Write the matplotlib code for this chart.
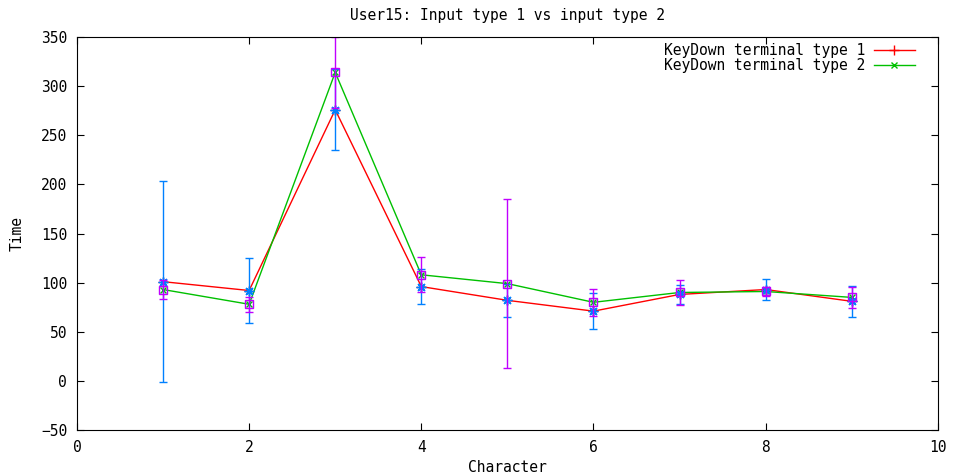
import numpy as np
import matplotlib.pyplot as plt

plt.rcParams['font.family'] = ['DejaVu Sans Mono']
plt.rcParams['font.size'] = 10.5

chars = [1, 2, 3, 4, 5, 6, 7, 8, 9]
type1 = [101, 92, 276, 96, 82, 71, 88, 93, 81]
type1_err = [102, 33, 41, 18, 17, 18, 10, 11, 16]
type2 = [93, 78, 314, 108, 99, 80, 90, 91, 85]
type2_err = [10, 7.5, 36, 18, 86, 13.5, 13, 5, 11]

fig = plt.figure(figsize=(9.56, 4.75), dpi=100)
ax = fig.add_axes([0.0805, 0.0947, 0.9005, 0.8273])

ax.plot(chars, type1, color='#ff0000', lw=1, marker='+', ms=7, label='KeyDown terminal type 1')
ax.plot(chars, type2, color='#00c000', lw=1, marker='x', ms=5, label='KeyDown terminal type 2')
ax.errorbar(chars, type1, yerr=type1_err, fmt='none', ecolor='#0080ff',
            elinewidth=1, capsize=3, capthick=1)
ax.plot(chars, type1, ls='none', marker=(8, 2, 0), color='#0080ff', ms=7, mew=1)
ax.errorbar(chars, type2, yerr=type2_err, fmt='s', color='#c000ff', mfc='none', ms=6,
            elinewidth=1, capsize=3, capthick=1)

ax.set_xlim(0, 10)
ax.set_ylim(-50, 350)
ax.set_xticks(np.arange(0, 11, 2))
ax.set_yticks(np.arange(-50, 351, 50))
ax.tick_params(direction='in', top=True, right=True, length=5, pad=7)
ax.set_xlabel('Character', labelpad=4)
ax.set_ylabel('Time', labelpad=12)
ax.set_title('User15: Input type 1 vs input type 2', pad=12, fontsize=10.5)
ax.legend(loc='upper right', bbox_to_anchor=(0.98, 1.0), frameon=False, markerfirst=False,
          handlelength=2.8, borderaxespad=0.0, labelspacing=0.0, handletextpad=0.6)

fig.savefig('out.png')
